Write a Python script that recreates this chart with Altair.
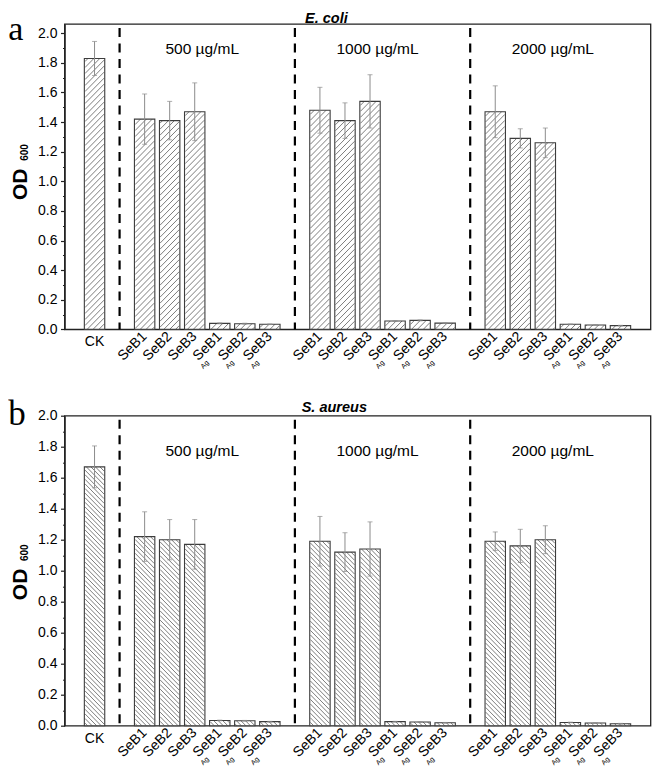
import altair as alt
import pandas as pd
import numpy as np

# ---------------- data ----------------
sample_names = ["SeB1", "SeB2", "SeB3", "SeB1", "SeB2", "SeB3"]
ag_flags = [False, False, False, True, True, True]
AG_SUB = "Ag"
concentrations = ["500 µg/mL", "1000 µg/mL", "2000 µg/mL"]
ck_name = "CK"

ecoli_ck = 1.83
ecoli_ck_err = 0.115
ecoli_500 = [1.42, 1.41, 1.47, 0.040, 0.038, 0.034]
ecoli_500_err = [0.17, 0.13, 0.195, 0.003, 0.003, 0.002]
ecoli_1000 = [1.48, 1.41, 1.54, 0.056, 0.060, 0.042]
ecoli_1000_err = [0.155, 0.12, 0.18, 0.003, 0.003, 0.003]
ecoli_2000 = [1.47, 1.29, 1.26, 0.034, 0.029, 0.025]
ecoli_2000_err = [0.175, 0.065, 0.10, 0.002, 0.002, 0.002]

saureus_ck = 1.67
saureus_ck_err = 0.135
saureus_500 = [1.22, 1.20, 1.17, 0.034, 0.032, 0.026]
saureus_500_err = [0.16, 0.13, 0.16, 0.002, 0.002, 0.002]
saureus_1000 = [1.19, 1.12, 1.14, 0.026, 0.024, 0.019]
saureus_1000_err = [0.16, 0.125, 0.175, 0.002, 0.002, 0.002]
saureus_2000 = [1.19, 1.16, 1.20, 0.021, 0.017, 0.013]
saureus_2000_err = [0.06, 0.107, 0.09, 0.002, 0.002, 0.002]

# ---------------- layout / style ----------------
W = 586.0
XDOM = [-1, 22]
BAR_PX = 20.4
FONT = "Liberation Sans"
AXIS_COLOR = "#222222"
LEFT_X = -56.3


def build_bars(ck, ck_err, groups, errs):
    rows = [dict(pos=0, value=ck, err=ck_err, name=ck_name, ag=False)]
    for g, (vals, ers) in enumerate(zip(groups, errs)):
        for i, (v, e) in enumerate(zip(vals, ers)):
            rows.append(dict(pos=2 + 7 * g + i, value=v, err=e,
                             name=sample_names[i], ag=ag_flags[i]))
    df = pd.DataFrame(rows)
    df["lo"] = df["value"] - df["err"]
    df["hi"] = df["value"] + df["err"]
    return df


def hatch_segments(df, H, ymax, spacing, direction):
    sx = W / (XDOM[1] - XDOM[0])
    sy = H / ymax
    segs = []
    for pos, val in zip(df["pos"], df["value"]):
        xc = (pos - XDOM[0]) * sx
        xl, xr = xc - BAR_PX / 2 + 0.5, xc + BAR_PX / 2 - 0.5
        h = val * sy
        if direction == "/":
            kmin = int(np.floor((xl - h) / spacing)) - 1
            kmax = int(np.ceil(xr / spacing)) + 1
            for k in range(kmin, kmax + 1):
                c = k * spacing
                xs, xe = max(xl, c), min(xr, h + c)
                if xe - xs > 0.3:
                    segs.append((xs, xs - c, xe, xe - c))
        else:
            kmin = int(np.floor(xl / spacing)) - 1
            kmax = int(np.ceil((xr + h) / spacing)) + 1
            for k in range(kmin, kmax + 1):
                c = k * spacing
                xs, xe = max(xl, c - h), min(xr, c)
                if xe - xs > 0.3:
                    segs.append((xs, c - xs, xe, c - xe))
    out = pd.DataFrame(segs, columns=["xa", "ya", "xb", "yb"])
    out["xa"] = out["xa"] / sx + XDOM[0]
    out["xb"] = out["xb"] / sx + XDOM[0]
    out["ya"] = out["ya"] / sy
    out["yb"] = out["yb"] / sy
    return out


def panel(df, H, ymax, spacing, direction, title_text, title_x, title_y,
          letter, letter_y, letter_size, conc_y, od_y, sub_y):
    xs = alt.Scale(domain=XDOM, nice=False, zero=False)
    ys = alt.Scale(domain=[0, ymax], nice=False, zero=True)
    major = [round(0.2 * i, 1) for i in range(11)]
    minor = [round(0.1 + 0.2 * i, 1) for i in range(10)]

    base = alt.Chart(df)
    bars_fill = base.mark_bar(size=BAR_PX, fill="white", strokeWidth=0).encode(
        x=alt.X("pos:Q", scale=xs,
                axis=alt.Axis(labels=False, ticks=False, title=None, grid=False,
                              domainColor=AXIS_COLOR, domainWidth=1.4)),
        y=alt.Y("value:Q", scale=ys,
                axis=alt.Axis(values=major, format=".1f", tickSize=4, tickWidth=1.2,
                              tickColor=AXIS_COLOR, domainColor=AXIS_COLOR,
                              domainWidth=1.4, labelFontSize=14, labelFont=FONT,
                              labelColor="black", labelPadding=3.5, title=None,
                              grid=False)),
    )
    hdf = hatch_segments(df, H, ymax, spacing, direction)
    hatch = alt.Chart(hdf).mark_rule(color="#5c5c5c", strokeWidth=0.8).encode(
        x=alt.X("xa:Q", scale=xs, axis=None),
        y=alt.Y("ya:Q", scale=ys, axis=None),
        x2="xb:Q", y2="yb:Q",
    )
    bars_outline = base.mark_bar(size=BAR_PX, fillOpacity=0, stroke="#3c3c3c",
                                 strokeWidth=1.1).encode(
        x=alt.X("pos:Q", scale=xs, axis=None),
        y=alt.Y("value:Q", scale=ys, axis=None),
    )
    stems = base.mark_rule(color="#8c8c8c", strokeWidth=1).encode(
        x=alt.X("pos:Q", scale=xs, axis=None),
        y=alt.Y("lo:Q", scale=ys,
                axis=alt.Axis(values=minor, labels=False, tickSize=2, tickWidth=1,
                              tickColor=AXIS_COLOR, domain=False, orient="left",
                              title=None, grid=False)),
        y2="hi:Q",
    )
    cap_hi = base.mark_tick(orient="horizontal", size=5, thickness=1,
                            color="#8c8c8c").encode(
        x=alt.X("pos:Q", scale=xs, axis=None),
        y=alt.Y("hi:Q", scale=ys, axis=None),
    )
    cap_lo = base.mark_tick(orient="horizontal", size=5, thickness=1,
                            color="#8c8c8c").encode(
        x=alt.X("pos:Q", scale=xs, axis=None),
        y=alt.Y("lo:Q", scale=ys, axis=None),
    )
    sep_df = pd.DataFrame({"pos": [1 + 7 * g for g in range(3)]})
    seps = alt.Chart(sep_df).mark_rule(color="black", strokeWidth=2.2,
                                       strokeDash=[9, 6.5], strokeDashOffset=-4).encode(
        x=alt.X("pos:Q", scale=xs, axis=None),
        y=alt.value(0), y2=alt.value(H),
    )
    conc_df = pd.DataFrame({"pos": [2 + 7 * g + 2.3 for g in range(3)],
                            "t": concentrations})
    conc = alt.Chart(conc_df).mark_text(font=FONT, fontSize=15.5, color="black",
                                        align="center", baseline="alphabetic").encode(
        x=alt.X("pos:Q", scale=xs, axis=None), y=alt.value(conc_y), text="t:N")

    rot = alt.Chart(df[df["pos"] > 0]).mark_text(
        font=FONT, fontSize=14, color="black", angle=315, align="right",
        baseline="middle").encode(
        x=alt.X("pos:Q", scale=xs, axis=None), y=alt.value(H + 5), text="name:N")
    ag = alt.Chart(df[df["ag"]]).mark_text(
        font=FONT, fontSize=7, color="black", angle=315, align="center",
        baseline="middle", dx=-32, dy=11).encode(
        x=alt.X("pos:Q", scale=xs, axis=None), y=alt.value(H + 5),
        text=alt.value(AG_SUB))
    ck = alt.Chart(df[df["pos"] == 0]).mark_text(
        font=FONT, fontSize=14, color="black", align="center",
        baseline="alphabetic").encode(
        x=alt.X("pos:Q", scale=xs, axis=None), y=alt.value(H + 17), text="name:N")

    one = pd.DataFrame({"t": [title_text]})
    title = alt.Chart(one).mark_text(font=FONT, fontSize=14.5, fontStyle="italic",
                                     fontWeight="bold", color="black", align="left",
                                     baseline="alphabetic").encode(
        x=alt.value(title_x), y=alt.value(title_y), text="t:N")
    let = alt.Chart(pd.DataFrame({"t": [letter]})).mark_text(
        font="Liberation Serif", fontSize=letter_size, color="black", align="left",
        baseline="alphabetic").encode(
        x=alt.value(LEFT_X), y=alt.value(letter_y), text="t:N")
    od = alt.Chart(pd.DataFrame({"t": ["OD"]})).mark_text(
        font=FONT, fontSize=21, fontWeight="bold", color="black", angle=270,
        align="center", baseline="alphabetic").encode(
        x=alt.value(LEFT_X + 19.2), y=alt.value(od_y), text="t:N")
    od_sub = alt.Chart(pd.DataFrame({"t": ["600"]})).mark_text(
        font=FONT, fontSize=10, fontWeight="bold", color="black", angle=270,
        align="center", baseline="alphabetic").encode(
        x=alt.value(LEFT_X + 19.7), y=alt.value(sub_y), text="t:N")

    return alt.layer(bars_fill, hatch, bars_outline, stems, cap_hi, cap_lo, seps,
                     conc, rot, ag, ck, title, let, od, od_sub).properties(
        width=W, height=H).resolve_axis(y="independent")


df_a = build_bars(ecoli_ck, ecoli_ck_err, [ecoli_500, ecoli_1000, ecoli_2000],
                  [ecoli_500_err, ecoli_1000_err, ecoli_2000_err])
df_b = build_bars(saureus_ck, saureus_ck_err, [saureus_500, saureus_1000, saureus_2000],
                  [saureus_500_err, saureus_1000_err, saureus_2000_err])

TOP_A, BOT_A = 23.0, 328.3
TOP_B, BOT_B = 414.0, 724.0
H_A, H_B = BOT_A - TOP_A, BOT_B - TOP_B
YMAX_A = 2.0 + (32.3 - TOP_A) / 148.0

pa = panel(df_a, H_A, YMAX_A, 6.0, "/", "E. coli", 240.5, -1.5, "a",
           38.6 - TOP_A, 34, 53.3 - TOP_A, 183.3 - TOP_A, 151.5 - TOP_A)
pb = panel(df_b, H_B, 2.0, 4.6, "\\", "S. aureus", 237.2, 410.0 - TOP_B, "b",
           423.3 - TOP_B, 35, 454.0 - TOP_B, 582.7 - TOP_B, 551.0 - TOP_B)

chart = alt.vconcat(pa, pb, spacing=TOP_B - BOT_A, bounds="flush",
                    padding={"left": -0.5, "top": 1, "right": 0, "bottom": -1}
                    ).configure_view(stroke=AXIS_COLOR, strokeWidth=1.3)

chart.save("out.html", embed_options={"renderer": "svg", "actions": False})
